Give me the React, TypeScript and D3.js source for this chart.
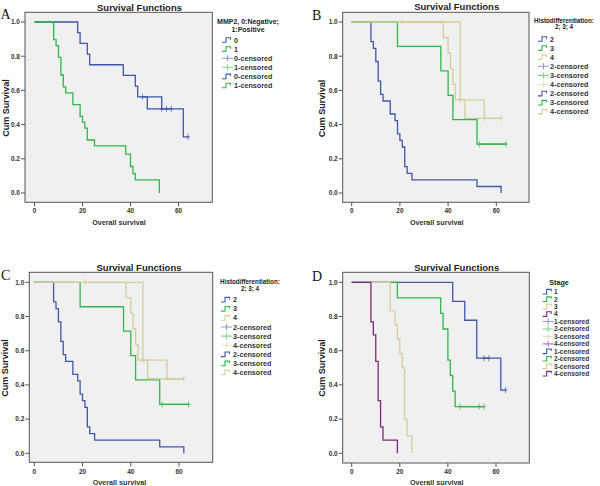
import React from 'react';
import * as d3 from 'd3';

// ---------- colours (SPSS defaults) ----------
const BLUE = '#3e58ac';
const GREEN = '#2eb848';
const TAN = '#d3ce97';
const PURPLE = '#7c287d';

// ---------- shared axis ticks ----------
const xTicks = [0, 20, 40, 60];
const yTicks = [0, 0.2, 0.4, 0.6, 0.8, 1.0];
const yTickLabels = ['0.0', '0.2', '0.4', '0.6', '0.8', '1.0'];

// ---------- Panel A: MMP2 ----------
const mmp0Times = [18, 19, 22, 23, 37, 42, 43, 47, 62];
const mmp0Surv = [0.9375, 0.875, 0.8125, 0.75, 0.6875, 0.625, 0.5625, 0.492, 0.328];
const mmp0End = 64;
const mmp0Censor = [45, 53, 55, 57, 64];
const mmp0CensorLine = [45, 53, 55, 57];

const mmp1Times = [8, 9, 10, 11, 12, 13, 16, 19, 20, 21, 22, 25, 38, 40, 41, 42, 52];
const mmp1Surv = [0.897, 0.862, 0.793, 0.69, 0.621, 0.586, 0.517, 0.448, 0.414, 0.379, 0.31, 0.276, 0.227, 0.155, 0.113, 0.077, 0];
const mmp1End = 52;

// ---------- Panels B & C: Histodifferentiation ----------
const hd2Times = [8, 9, 10, 11, 12, 13, 16, 18, 19, 20, 21, 22, 23, 25, 52, 62];
const hd2Surv = [0.885, 0.846, 0.769, 0.654, 0.577, 0.538, 0.462, 0.423, 0.346, 0.308, 0.269, 0.154, 0.115, 0.077, 0.038, 0];
const hd2End = 62;

const hd3Times = [19, 37, 40, 42, 52];
const hd3Surv = [0.857, 0.714, 0.571, 0.429, 0.286];
const hd3End = 64;
const hd3Censor = [53, 64];
const hd3CensorLine = [53, 64];

const hd4Times = [38, 40, 41, 42, 43, 47];
const hd4Surv = [0.909, 0.818, 0.727, 0.636, 0.545, 0.436];
const hd4End = 62;
const hd4Censor = [21, 45, 55, 62];
const hd4CensorLine = [21, 45, 55, 62];

// ---------- Panel D: Stage ----------
const st1Times = [42, 47, 52, 62];
const st1Surv = [0.889, 0.778, 0.556, 0.37];
const st1End = 64;
const st1Censor = [55, 57, 64];
const st1CensorLine = [55, 57];

const st2Times = [19, 37, 38, 40, 41, 42, 43];
const st2Surv = [0.909, 0.818, 0.727, 0.545, 0.455, 0.364, 0.273];
const st2End = 55;
const st2Censor = [45, 53, 55];
const st2CensorLine = [45, 53, 55];

const st3Times = [16, 18, 19, 20, 21, 22, 23, 25];
const st3Surv = [0.833, 0.75, 0.667, 0.583, 0.5, 0.2, 0.1, 0];
const st3End = 25;

const st4Times = [8, 9, 10, 11, 12, 13, 19];
const st4Surv = [0.769, 0.692, 0.538, 0.308, 0.154, 0.077, 0];
const st4End = 19;

// ---------- legend labels ----------
const mmpLegendTitle = ['MMP2, 0:Negative;', '1:Positive'];
const mmpGroups = ['0', '1'];
const hdLegendTitle = ['Histodifferentiation:', '2; 3; 4'];
const hdGroups = ['2', '3', '4'];
const stLegendTitle = ['Stage'];
const stGroups = ['1', '2', '3', '4'];

type Series = {
  color: string;
  times: number[];
  surv: number[];
  end: number;
  censor?: number[];
  censorLine?: number[];
};

const survAt = (s: Series, t: number) => {
  let v = 1;
  for (let i = 0; i < s.times.length; i++) if (s.times[i] <= t) v = s.surv[i];
  return v;
};

const seriesA: Series[] = [
  { color: BLUE, times: mmp0Times, surv: mmp0Surv, end: mmp0End, censor: mmp0Censor, censorLine: mmp0CensorLine },
  { color: GREEN, times: mmp1Times, surv: mmp1Surv, end: mmp1End },
];
const seriesHD: Series[] = [
  { color: BLUE, times: hd2Times, surv: hd2Surv, end: hd2End },
  { color: GREEN, times: hd3Times, surv: hd3Surv, end: hd3End, censor: hd3Censor, censorLine: hd3CensorLine },
  { color: TAN, times: hd4Times, surv: hd4Surv, end: hd4End, censor: hd4Censor, censorLine: hd4CensorLine },
];
const seriesD: Series[] = [
  { color: BLUE, times: st1Times, surv: st1Surv, end: st1End, censor: st1Censor, censorLine: st1CensorLine },
  { color: GREEN, times: st2Times, surv: st2Surv, end: st2End, censor: st2Censor, censorLine: st2CensorLine },
  { color: TAN, times: st3Times, surv: st3Surv, end: st3End },
  { color: PURPLE, times: st4Times, surv: st4Surv, end: st4End },
];

const SANS = '"Liberation Sans", Arial, sans-serif';
const SERIF = '"Liberation Serif", "Times New Roman", serif';

type Legend = {
  title: string[];
  titleX: number;
  titleY0: number;
  titleDy: number;
  titleSize: number;
  glyphX: number;
  textX: number;
  itemY0: number;
  itemDy: number;
  fontSize: number;
  groups: string[];
  colors: string[];
};

type PanelCfg = {
  letter: string;
  letterX: number;
  letterY: number;
  box: [number, number, number, number];
  x0: number;
  x60: number;
  y1: number;
  y0: number;
  titleX: number;
  titleY: number;
  yLabX: number;
  yLabY: number;
  xLabX: number;
  xLabY: number;
  tickLabY: number;
  series: Series[];
  legend: Legend;
};

const Panel: React.FC<{ cfg: PanelCfg }> = ({ cfg }) => {
  const x = d3.scaleLinear().domain([0, 60]).range([cfg.x0, cfg.x60]);
  const y = d3.scaleLinear().domain([0, 1]).range([cfg.y0, cfg.y1]);
  const line = d3
    .line<[number, number]>()
    .x((d) => x(d[0]))
    .y((d) => y(d[1]))
    .curve(d3.curveStepAfter);
  const [bx0, by0, bx1, by1] = cfg.box;
  const lg = cfg.legend;

  const items: { kind: 'step' | 'plus'; label: string; color: string }[] = [];
  lg.groups.forEach((g, i) => items.push({ kind: 'step', label: g, color: lg.colors[i] }));
  lg.groups.forEach((g, i) => items.push({ kind: 'plus', label: `${g}-censored`, color: lg.colors[i] }));
  lg.groups.forEach((g, i) => items.push({ kind: 'step', label: `${g}-censored`, color: lg.colors[i] }));

  return (
    <g>
      <text x={cfg.letterX} y={cfg.letterY} fontFamily={SERIF} fontSize={14} fill="#111">
        {cfg.letter}
      </text>
      <text x={cfg.titleX} y={cfg.titleY} textAnchor="middle" fontFamily={SANS} fontSize={9.5} fontWeight="bold" fill="#222">
        Survival Functions
      </text>
      <rect x={bx0} y={by0} width={bx1 - bx0} height={by1 - by0} fill="#f0f0f0" stroke="#555" strokeWidth={1} />
      {/* y axis ticks */}
      {yTicks.map((t, i) => (
        <g key={'y' + i}>
          <line x1={bx0 - 4} x2={bx0} y1={y(t)} y2={y(t)} stroke="#555" strokeWidth={1} />
          <text x={bx0 - 5} y={y(t) + 2.3} textAnchor="end" fontFamily={SANS} fontSize={6.5} fontWeight="bold" fill="#333">
            {yTickLabels[i]}
          </text>
        </g>
      ))}
      {/* x axis ticks */}
      {xTicks.map((t) => (
        <g key={'x' + t}>
          <line x1={x(t)} x2={x(t)} y1={by1} y2={by1 + 4} stroke="#555" strokeWidth={1} />
          <text x={x(t)} y={cfg.tickLabY} textAnchor="middle" fontFamily={SANS} fontSize={6.5} fontWeight="bold" fill="#333">
            {t}
          </text>
        </g>
      ))}
      <text
        transform={`translate(${cfg.yLabX},${cfg.yLabY}) rotate(-90)`}
        textAnchor="middle"
        fontFamily={SANS}
        fontSize={9}
        fontWeight="bold"
        fill="#222"
      >
        Cum Survival
      </text>
      <text x={cfg.xLabX} y={cfg.xLabY} textAnchor="middle" fontFamily={SANS} fontSize={7.2} fontWeight="bold" fill="#333">
        Overall survival
      </text>
      {/* curves */}
      {cfg.series.map((s, i) => {
        const pts: [number, number][] = [[0, 1]];
        s.times.forEach((t, j) => pts.push([t, s.surv[j]]));
        pts.push([s.end, survAt(s, s.end)]);
        const cl = s.censorLine ? s.censorLine.map((t) => [t, survAt(s, t)] as [number, number]) : null;
        return (
          <g key={'s' + i}>
            <path d={line(pts) || ''} fill="none" stroke={s.color} strokeWidth={1.3} />
            {cl && <path d={line(cl) || ''} fill="none" stroke={s.color} strokeWidth={1.3} />}
            {(s.censor || []).map((t, k) => (
              <path
                key={k}
                d={`M${x(t)},${y(survAt(s, t)) - 3}V${y(survAt(s, t)) + 3}M${x(t) - 2},${y(survAt(s, t))}H${x(t) + 2}`}
                stroke={s.color}
                strokeWidth={0.9}
                opacity={0.8}
              />
            ))}
          </g>
        );
      })}
      {/* legend */}
      {lg.title.map((tl, i) => (
        <text
          key={'lt' + i}
          x={lg.titleX}
          y={lg.titleY0 + i * lg.titleDy}
          textAnchor="middle"
          fontFamily={SANS}
          fontSize={lg.titleSize}
          fontWeight="bold"
          fill="#222"
        >
          {tl}
        </text>
      ))}
      {items.map((it, i) => {
        const cy = lg.itemY0 + i * lg.itemDy;
        const gx = lg.glyphX;
        const d =
          it.kind === 'step'
            ? `M${gx},${cy + 2.3}H${gx + 4}V${cy - 2.3}H${gx + 8.5}V${cy - 0.3}`
            : `M${gx},${cy}H${gx + 11}M${gx + 5.5},${cy - 3}V${cy + 3}`;
        return (
          <g key={'li' + i}>
            <path d={d} fill="none" stroke={it.color} strokeWidth={1.1} opacity={it.kind === 'plus' ? 0.6 : 1} />
            <text x={lg.textX} y={cy + lg.fontSize * 0.36} fontFamily={SANS} fontSize={lg.fontSize} fontWeight="bold" fill="#333">
              {it.label}
            </text>
          </g>
        );
      })}
    </g>
  );
};

const panels: PanelCfg[] = [
  {
    letter: 'A', letterX: 0.5, letterY: 19,
    box: [25, 12.3, 212.3, 202.3], x0: 34.5, x60: 178.5, y1: 22, y0: 193,
    titleX: 139.5, titleY: 10.5, yLabX: 9, yLabY: 108, xLabX: 119, xLabY: 224.5, tickLabY: 213,
    series: seriesA,
    legend: {
      title: mmpLegendTitle, titleX: 248, titleY0: 24, titleDy: 7.5, titleSize: 7,
      glyphX: 222, textX: 234, itemY0: 40, itemDy: 9.1, fontSize: 7.2,
      groups: mmpGroups, colors: [BLUE, GREEN],
    },
  },
  {
    letter: 'B', letterX: 312, letterY: 19.5,
    box: [342.7, 12.3, 529, 202.3], x0: 351.7, x60: 496.3, y1: 22, y0: 193,
    titleX: 456.7, titleY: 10, yLabX: 325, yLabY: 108.5, xLabX: 436.7, xLabY: 224.5, tickLabY: 213,
    series: seriesHD,
    legend: {
      title: hdLegendTitle, titleX: 564, titleY0: 22.5, titleDy: 6.6, titleSize: 6.3,
      glyphX: 538, textX: 550, itemY0: 39, itemDy: 9.1, fontSize: 7.2,
      groups: hdGroups, colors: [BLUE, GREEN, TAN],
    },
  },
  {
    letter: 'C', letterX: 1, letterY: 280,
    box: [29.3, 272.3, 212.7, 462.3], x0: 34.3, x60: 179, y1: 282.3, y0: 453.3,
    titleX: 139, titleY: 270.8, yLabX: 7.5, yLabY: 368, xLabX: 119.5, xLabY: 485, tickLabY: 474,
    series: seriesHD,
    legend: {
      title: hdLegendTitle, titleX: 250, titleY0: 284.3, titleDy: 6.4, titleSize: 6.3,
      glyphX: 221, textX: 233, itemY0: 299.7, itemDy: 9.1, fontSize: 7.2,
      groups: hdGroups, colors: [BLUE, GREEN, TAN],
    },
  },
  {
    letter: 'D', letterX: 312, letterY: 281,
    box: [342.7, 272.3, 529.3, 463], x0: 351.7, x60: 496, y1: 282.3, y0: 453.3,
    titleX: 456.7, titleY: 270.8, yLabX: 325, yLabY: 368, xLabX: 436.7, xLabY: 485, tickLabY: 474,
    series: seriesD,
    legend: {
      title: stLegendTitle, titleX: 559, titleY0: 284.5, titleDy: 7, titleSize: 7.2,
      glyphX: 542.7, textX: 554, itemY0: 291.7, itemDy: 7.45, fontSize: 6.6,
      groups: stGroups, colors: [BLUE, GREEN, TAN, PURPLE],
    },
  },
];

export default function App() {
  return (
    <svg
      width={600}
      height={486}
      viewBox="0 0 600 486"
      style={{ position: 'absolute', left: 0, top: 0, background: '#fff' }}
    >
      <rect x={0} y={0} width={600} height={486} fill="#fff" />
      {panels.map((p) => (
        <Panel key={p.letter} cfg={p} />
      ))}
    </svg>
  );
}
